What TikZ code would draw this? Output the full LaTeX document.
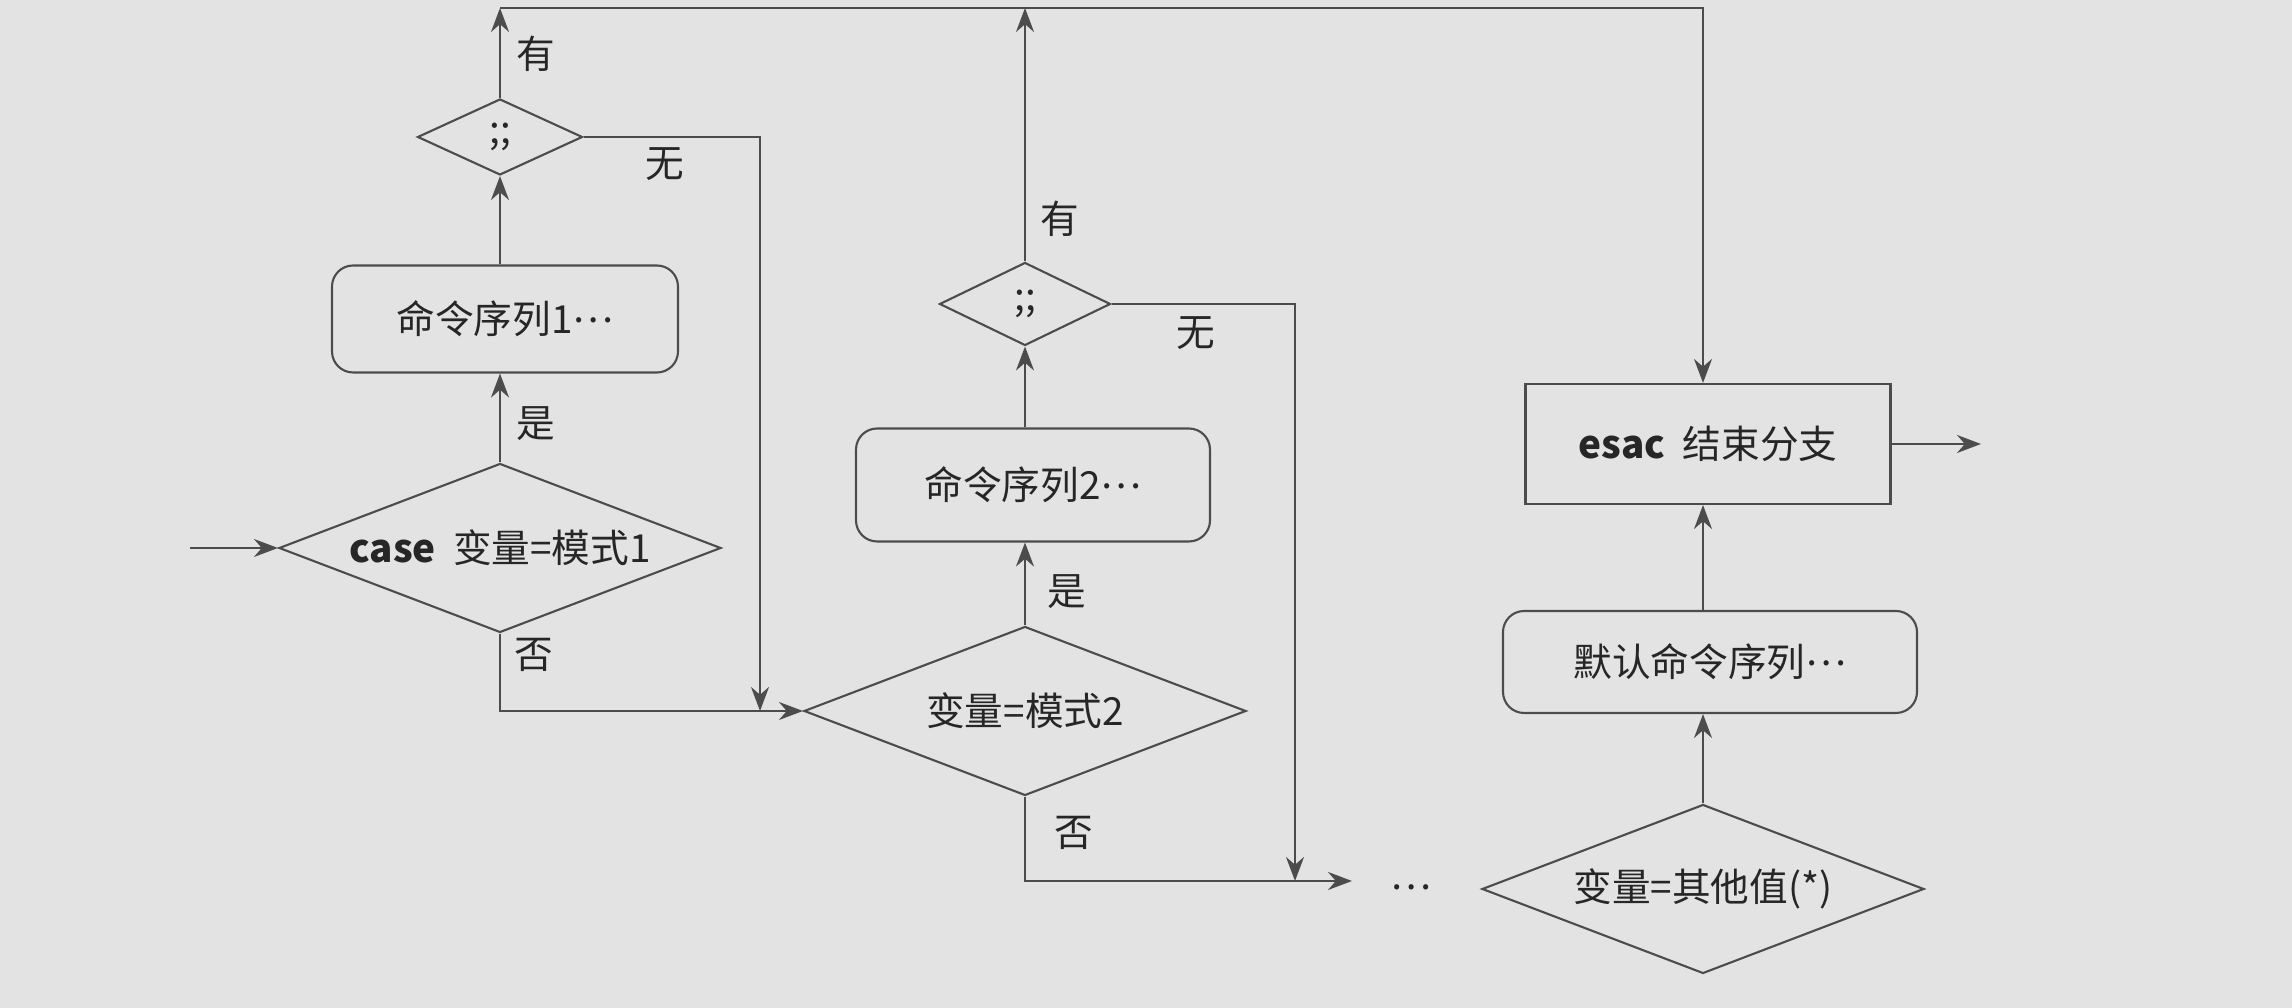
\documentclass[tikz,border=0pt]{standalone}
\usepackage{fontspec}
\setmainfont{Noto Sans CJK SC}
\usetikzlibrary{arrows.meta, shapes.geometric, positioning, calc}

\newcommand{\middots}{\raisebox{0.3em}{…}}

\tikzset{
  line/.style={draw=black!70, line width=0.6pt},
  cmdbox/.style={line, rounded corners=6pt, text=black!85},
  endbox/.style={line, text=black!85},
  test/.style={line, diamond, aspect=2.6, inner sep=1pt, text=black!85},
  lbl/.style={text=black!85},
}

\begin{document}
\begin{tikzpicture}[>={Stealth[length=2.4mm,width=1.8mm]}, font=\fontsize{11}{13}\selectfont]
  \fill[black!11] (0,0) rectangle (22.92,10.08);
  \useasboundingbox (0,0) rectangle (22.92,10.08);

  % first pattern
  \coordinate (start) at (1.90,4.60);
  \node[test, minimum width=4.42cm, minimum height=1.69cm] (c1) at (5.00,4.60) {\textbf{case}\ \ 变量=模式1};
  \node[cmdbox, minimum width=3.46cm, minimum height=1.07cm] (b1) at (5.05,6.89) {命令序列1\middots};
  \node[test, minimum width=1.65cm, minimum height=0.76cm] (s1) at (5.00,8.71) {;;};
  \coordinate (top1) at (5.00,10.00);
  \coordinate (j1) at (7.60,2.97);

  % second pattern
  \node[test, minimum width=4.42cm, minimum height=1.69cm] (c2) at (10.25,2.97) {变量=模式2};
  \node[cmdbox, minimum width=3.54cm, minimum height=1.13cm] (b2) at (10.33,5.23) {命令序列2\middots};
  \node[test, minimum width=1.71cm, minimum height=0.83cm] (s2) at (10.25,7.04) {;;};
  \coordinate (j2) at (12.95,1.27);
  \coordinate (more) at (13.52,1.27);
  \node[lbl] (dots) at (14.11,1.15) {\middots};

  % default branch and end
  \node[test, minimum width=4.42cm, minimum height=1.69cm] (c3) at (17.03,1.19) {变量=其他值(*)};
  \node[cmdbox, minimum width=4.14cm, minimum height=1.02cm] (b3) at (17.10,3.46) {默认命令序列\middots};
  \node[endbox, minimum width=3.65cm, minimum height=1.20cm] (esac) at (17.08,5.64) {\textbf{esac}\ \ 结束分支};
  \coordinate (top2) at (17.03,10.00);
  \coordinate (out) at (19.81,5.64);

  % connectors
  \draw[line, ->] (start) -- (c1.west);
  \draw[line, ->] (c1.north) -- (c1.north |- b1.south);
  \draw[line, ->] (s1.south |- b1.north) -- (s1.south);
  \draw[line, ->] (s1.north) -- (top1);
  \draw[line, ->] (s1.east) -| (j1);
  \draw[line, ->] (c1.south) |- (c2.west);
  \draw[line, ->] (c2.north) -- (c2.north |- b2.south);
  \draw[line, ->] (s2.south |- b2.north) -- (s2.south);
  \draw[line, ->] (s2.north) -- (s2.north |- top1);
  \draw[line, ->] (s2.east) -| (j2);
  \draw[line, ->] (c2.south) |- (more);
  \draw[line, ->] (c3.north) -- (c3.north |- b3.south);
  \draw[line, ->] (c3.north |- b3.north) -- (c3.north |- esac.south);
  \draw[line, ->] (top1) -- (top2) -- (top2 |- esac.north);
  \draw[line, ->] (esac.east) -- (out);

  % branch labels
  \node[lbl] (y1) at (5.36,9.54) {有};
  \node[lbl] (n1) at (6.65,8.44) {无};
  \node[lbl] (t1) at (5.36,5.84) {是};
  \node[lbl] (f1) at (5.34,3.53) {否};
  \node[lbl] (y2) at (10.60,7.89) {有};
  \node[lbl] (n2) at (11.96,6.75) {无};
  \node[lbl] (t2) at (10.67,4.16) {是};
  \node[lbl] (f2) at (10.74,1.75) {否};
\end{tikzpicture}
\end{document}
